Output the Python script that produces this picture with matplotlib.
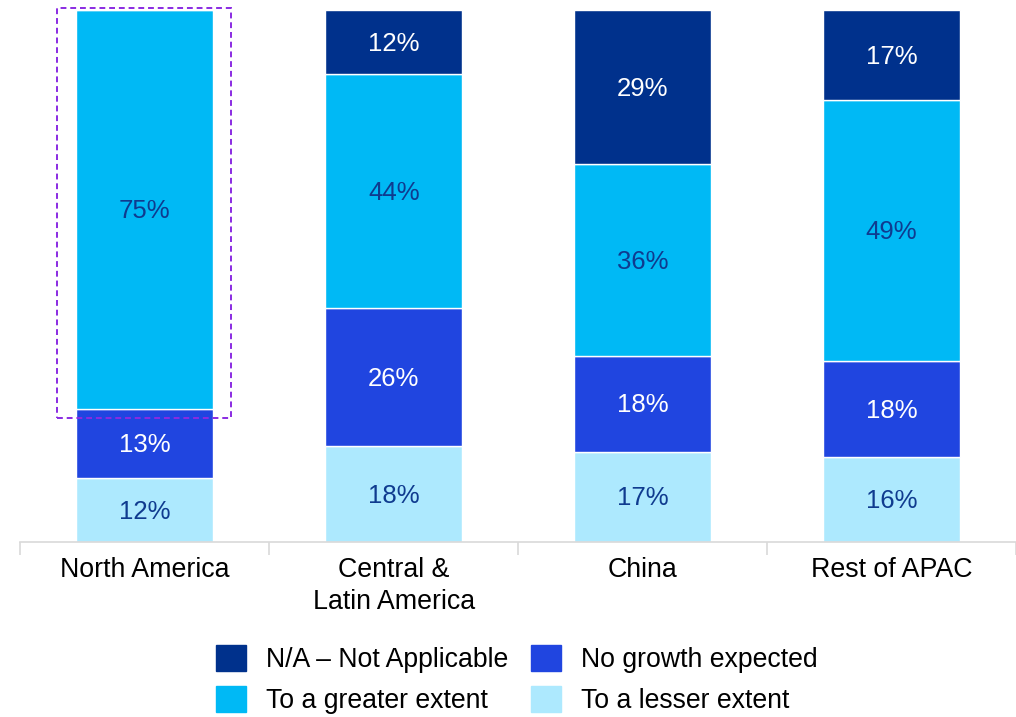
# Stacked share of expected growth by region.
import matplotlib

matplotlib.use("Agg")
import matplotlib.pyplot as plt
import numpy as np
from matplotlib.patches import Patch, Rectangle

plt.rcParams["font.family"] = ["Liberation Sans", "DejaVu Sans"]

REGIONS = ["North America", "Central &\nLatin America", "China", "Rest of APAC"]
SERIES = ["To a lesser extent", "No growth expected", "To a greater extent", "N/A \u2013 Not Applicable"]
LESSER = [12, 18, 17, 16]
NO_GROWTH = [13, 26, 18, 18]
GREATER = [75, 44, 36, 49]
NOT_APPLICABLE = [0, 12, 29, 17]

COLORS = ["#ADE9FE", "#2045E0", "#00B9F5", "#00318C"]
TEXT_COLORS = ["#0F3B8F", "white", "#0F3B8F", "white"]
GRID = "#D9D9D9"


def main():
    fig = plt.figure(figsize=(10.16, 7.17), dpi=100)
    ax = fig.add_axes([0.02, 0.244, 0.98, 0.742])

    x = np.arange(len(REGIONS))
    bottom = np.zeros(len(REGIONS))
    for vals, color, tcolor in zip(
        [LESSER, NO_GROWTH, GREATER, NOT_APPLICABLE], COLORS, TEXT_COLORS
    ):
        vals = np.array(vals, dtype=float)
        ax.bar(x, vals, 0.55, bottom=bottom, color=color,
               edgecolor="white", linewidth=1)
        for xi, b, v in zip(x, bottom, vals):
            if v > 0:
                ax.text(xi, b + v / 2 - 0.3, f"{v:.0f}%", ha="center",
                        va="center", fontsize=18.5, color=tcolor)
        bottom += vals

    # dashed highlight around North America's "greater extent" segment
    y0 = LESSER[0] + NO_GROWTH[0] - 1.6
    ax.add_patch(Rectangle((-0.351, y0), 0.698, 100.4 - y0, fill=False,
                           edgecolor="#8A2BE2", linestyle=(0, (3, 2)),
                           linewidth=1.4, clip_on=False, zorder=5))

    ax.set_xlim(-0.5, len(REGIONS) - 0.5)
    ax.set_ylim(0, 100)
    ax.set_yticks([])
    for side in ["top", "right", "left"]:
        ax.spines[side].set_visible(False)
    ax.spines["bottom"].set_color(GRID)
    ax.spines["bottom"].set_linewidth(1.2)

    ax.set_xticks(x)
    ax.set_xticklabels(REGIONS, fontsize=19.3, linespacing=1.3)
    ax.tick_params(axis="x", which="major", length=0, pad=11)
    ax.set_xticks(np.arange(-0.5, len(REGIONS)), minor=True)
    ax.tick_params(axis="x", which="minor", length=9, color=GRID, width=1.2)

    # legend: column-wise fill gives N/A, No growth / greater, lesser rows
    handles = [Patch(color=COLORS[3]), Patch(color=COLORS[2]),
               Patch(color=COLORS[1]), Patch(color=COLORS[0])]
    labels = [SERIES[3], SERIES[2], SERIES[1], SERIES[0]]
    fig.legend(handles, labels, ncol=2, loc="center",
               bbox_to_anchor=(0.509, 0.052), frameon=False, fontsize=19.2,
               handlelength=1.1, handleheight=1.08, handletextpad=0.78,
               columnspacing=0.85, labelspacing=0.5)

    fig.savefig("out.png", dpi=100)


if __name__ == "__main__":
    main()
